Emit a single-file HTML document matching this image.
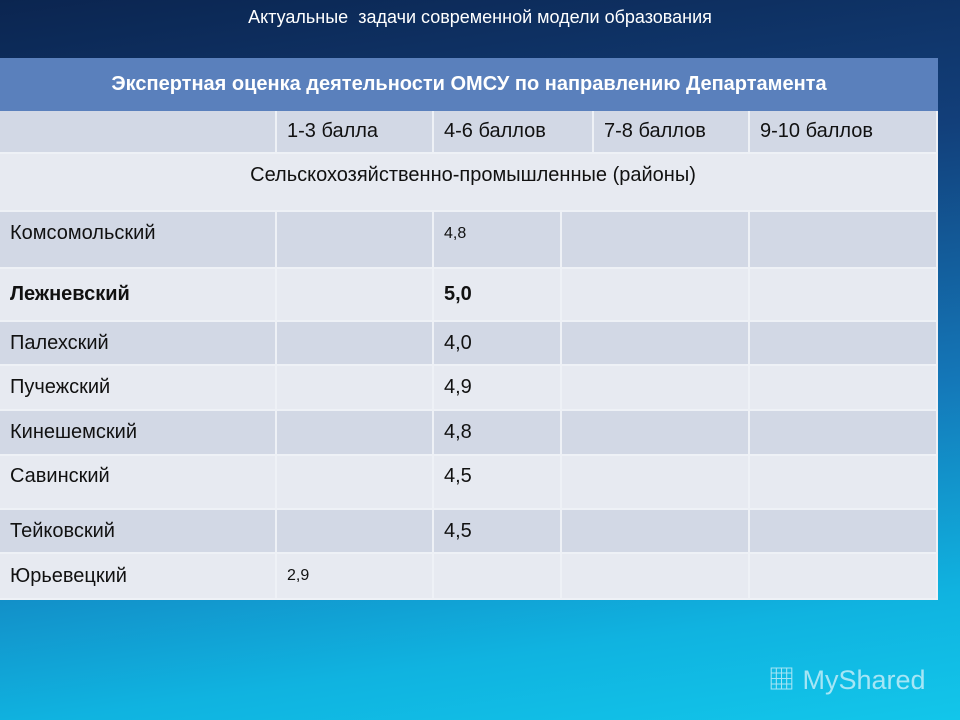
<!DOCTYPE html>
<html><head><meta charset="utf-8">
<style>
*{margin:0;padding:0;box-sizing:border-box}
body{width:960px;height:720px;overflow:hidden;font-family:"Liberation Sans","Noto Sans CJK SC",sans-serif;
background:linear-gradient(172deg,#0b2550 0%,#123f7a 30%,#1477b8 60%,#10b3e0 85%,#12c6ea 100%);position:relative}
.t{position:absolute;left:0;width:960px;top:7px;text-align:center;color:#fff;font-size:18px}
.c{position:absolute;font-size:20px;color:#111;padding-left:10px;display:flex;align-items:center;border-right:2px solid #eef1f6;border-bottom:2px solid #eef1f6}
.d{background:#d2d8e5}.l{background:#e7eaf1}
.hd{position:absolute;left:0;top:58px;width:938px;height:53px;background:#5a80bc;color:#fff;font-weight:bold;font-size:20px;display:flex;align-items:center;justify-content:center}
.n{font-size:16px}
.wm{position:absolute;left:768px;top:658px;color:#d8f3fb;font-size:27px;opacity:.75}
</style></head><body>
<div class="t">Актуальные&nbsp; задачи современной модели образования</div>
<div class="hd">Экспертная оценка деятельности ОМСУ по направлению Департамента</div>
<div id="tbl"></div>
<div class="wm">▦ MyShared</div>
<script>
const districts=["Комсомольский","Лежневский","Палехский","Пучежский","Кинешемский","Савинский","Тейковский","Юрьевецкий"];
const scores=["4,8","5,0","4,0","4,9","4,8","4,5","4,5","2,9"];
const scoreCol=[2,2,2,2,2,2,2,1];
const headers=["","1-3 балла","4-6 баллов","7-8 баллов","9-10 баллов"];
const tbl=document.getElementById('tbl');
function cell(x,y,w,h,txt,cls,name){const e=document.createElement('div');e.className='c '+cls;
e.style.left=x+'px';e.style.top=y+'px';e.style.width=w+'px';e.style.height=h+'px';e.textContent=txt;


tbl.appendChild(e);return e;}
const hx=[0,277,434,594,750,938];
headers.forEach((h,i)=>cell(hx[i],111,hx[i+1]-hx[i],43,h,'d','header-cell'));
const s=cell(0,154,938,58,'Сельскохозяйственно-промышленные (районы)','l','section-row');
s.style.justifyContent='center';s.style.alignItems='flex-start';s.style.paddingTop='10px';
const dx=[0,277,434,562,750,938];
const ry=[212,269,322,366,411,456,510,554,600];
districts.forEach((d,r)=>{const cls=r%2?'l':'d';const h=ry[r+1]-ry[r];
for(let c=0;c<5;c++){let txt='';if(c==0)txt=d;else if(c==scoreCol[r])txt=scores[r];
const e=cell(dx[c],ry[r],dx[c+1]-dx[c],h,txt,cls,c==0?'district-name':'score-cell');
if(c>0&&txt&&(r==0||r==7)){e.classList.add('n');}
if(r==0||r==5){e.style.paddingBottom='12px';}
if(r==1)e.style.fontWeight='bold';
}});
</script>
</body></html>
